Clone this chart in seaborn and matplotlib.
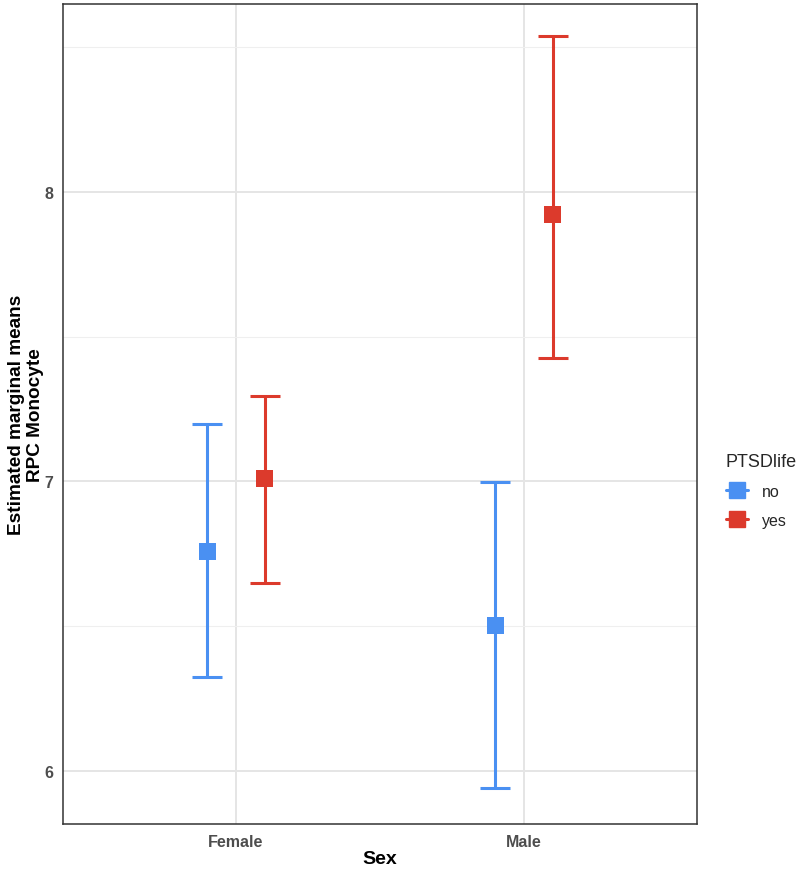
import numpy as np
import pandas as pd
import seaborn as sns
import matplotlib
matplotlib.use("Agg")
import matplotlib.pyplot as plt
from matplotlib.lines import Line2D

sexes = ["Female", "Male"]
groups = ["no", "yes"]
emmean = {"no": [6.758, 6.503], "yes": [7.010, 7.922]}
lower = {"no": [6.326, 5.943], "yes": [6.648, 7.428]}
upper = {"no": [7.197, 6.997], "yes": [7.294, 8.537]}
colors = {"no": "#4A90F2", "yes": "#DC3A2C"}

rows = []
for g in groups:
    for i, s in enumerate(sexes):
        rows.append(dict(Sex=s, PTSDlife=g, emmean=emmean[g][i], lcl=lower[g][i], ucl=upper[g][i],
                         xpos=i + (-0.1 if g == "no" else 0.1)))
df = pd.DataFrame(rows)

sns.set_theme(style="whitegrid")
plt.rcParams['font.family'] = ['Liberation Sans', 'DejaVu Sans']
fig = plt.figure(figsize=(8, 8.7), dpi=100)
ax = fig.add_axes([0.079, 0.0517, 0.792, 0.9426])

for g in groups:
    sub = df[df.PTSDlife == g]
    ax.errorbar(sub.xpos, sub.emmean, yerr=[sub.emmean - sub.lcl, sub.ucl - sub.emmean],
                fmt='none', ecolor=colors[g], elinewidth=2.2, capsize=11, capthick=2.2, zorder=2)
sns.scatterplot(data=df, x="xpos", y="emmean", hue="PTSDlife", palette=colors, marker="s",
                s=150, edgecolor="none", legend=False, ax=ax, zorder=3)

ax.set_xlim(-0.6, 1.6)
ax.set_ylim(5.817, 8.649)
ax.set_xticks([0, 1])
ax.set_xticklabels(sexes)
ax.set_yticks([6, 7, 8])
ax.set_yticklabels(["6", "7", "8"])
ax.set_yticks([6.5, 7.5, 8.5], minor=True)
ax.grid(True, which="major", color="#E5E5E5", linewidth=1.4)
ax.grid(True, which="minor", axis="y", color="#EFEFEF", linewidth=0.8)
ax.set_axisbelow(True)
for sp in ax.spines.values():
    sp.set_color("#333333")
    sp.set_linewidth(1.1)
ax.tick_params(axis="both", which="major", length=4, width=1.0, color="#333333",
               labelsize=11.5, labelcolor="#4D4D4D", pad=3)
ax.tick_params(axis="y", which="minor", length=0)
for lab in ax.get_xticklabels() + ax.get_yticklabels():
    lab.set_fontweight("bold")
ax.set_xlabel("Sex", fontsize=14, fontweight="bold", labelpad=1, color="black")
ax.set_ylabel("Estimated marginal means\nRPC Monocyte", fontsize=13.7, fontweight="bold",
              linespacing=1.15, color="black")
ax.yaxis.set_label_coords(-0.031, 0.5)

handles = [Line2D([0], [0], color=colors[g], marker="s", markersize=11, linewidth=2.2) for g in groups]
leg = fig.legend(handles, groups, title="PTSDlife", loc="center left", bbox_to_anchor=(0.893, 0.435),
                 frameon=False, fontsize=11.5, title_fontsize=13, handlelength=1.4, labelspacing=0.85,
                 handletextpad=0.9, borderpad=0.2)
leg._legend_box.align = "left"

fig.savefig("out.png", dpi=100)
